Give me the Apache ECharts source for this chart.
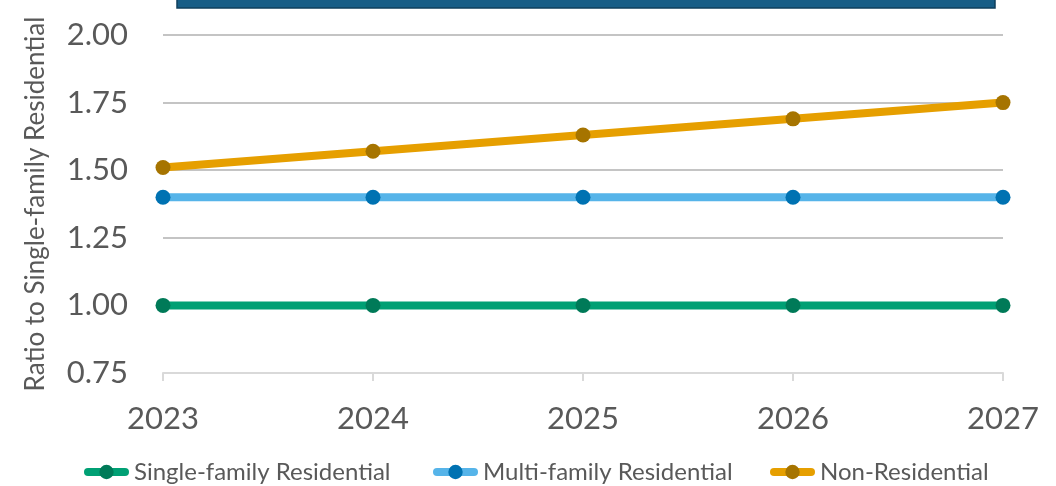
<!DOCTYPE html>
<html>
<head>
<meta charset="utf-8">
<title>Ratio to Single-family Residential</title>
<script src="https://cdn.jsdelivr.net/npm/echarts@6/dist/echarts.min.js"></script>
<style>
  html, body { margin: 0; padding: 0; background: #ffffff; }
  #chart { width: 1056px; height: 486px; }
</style>
</head>
<body>
<div id="chart"></div>
<script>
// Forecast years on the x axis
const years = ['2023', '2024', '2025', '2026', '2027'];

// Rate ratios relative to single-family residential
const singleFamily = [1.00, 1.00, 1.00, 1.00, 1.00];
const multiFamily = [1.40, 1.40, 1.40, 1.40, 1.40];
const nonResidential = [1.51, 1.57, 1.63, 1.69, 1.75];

const seriesNames = ['Single-family Residential', 'Multi-family Residential', 'Non-Residential'];
// Left edge of each legend entry along the bottom row
const legendLefts = [84, 433, 770];

const FONT = 'Lato, "Open Sans", sans-serif';
const TEXT = '#595959';

function lineSeries(name, data, lineColor, dotColor) {
  return {
    name: name,
    type: 'line',
    data: data,
    symbol: 'circle',
    symbolSize: 15,
    lineStyle: { color: lineColor, width: 8 },
    itemStyle: { color: dotColor },
    emphasis: { disabled: true },
    animation: false
  };
}

function legendEntry(name, left) {
  return {
    top: 460,
    left: left,
    padding: 0,
    itemWidth: 37,
    itemHeight: 18,
    lineStyle: { width: 8, cap: 'round' },
    textStyle: { color: TEXT, fontSize: 24, fontFamily: FONT, padding: [0, 0, 0, 4] },
    data: [name]
  };
}

const chart = echarts.init(document.getElementById('chart'), null, { renderer: 'canvas' });

chart.setOption({
  backgroundColor: '#ffffff',
  textStyle: { fontFamily: FONT },
  grid: { left: 163, right: 53, top: 35, bottom: 113, containLabel: false },
  graphic: [{
    type: 'rect',
    shape: { x: 177, y: -12, width: 818, height: 20 },
    style: { fill: '#175d86', stroke: '#0f3f5c', lineWidth: 1.5 },
    silent: true
  }],
  legend: seriesNames.map((n, i) => legendEntry(n, legendLefts[i])),
  xAxis: {
    type: 'category',
    data: years,
    boundaryGap: false,
    axisLine: { lineStyle: { color: '#d9d9d9', width: 2 } },
    axisTick: { show: true, length: 8, lineStyle: { color: '#d9d9d9', width: 2 } },
    axisLabel: { color: TEXT, fontSize: 31, fontFamily: FONT, margin: 30 },
    splitLine: { show: false }
  },
  yAxis: {
    type: 'value',
    min: 0.75,
    max: 2.0,
    interval: 0.25,
    name: 'Ratio to Single-family Residential',
    nameLocation: 'middle',
    nameGap: 114,
    nameTextStyle: { color: TEXT, fontSize: 26, fontFamily: FONT },
    axisLine: { show: false },
    axisTick: { show: false },
    axisLabel: {
      color: TEXT, fontSize: 31, fontFamily: FONT, margin: 35,
      formatter: v => v.toFixed(2)
    },
    splitLine: { lineStyle: { color: '#c4c4c4', width: 2 } }
  },
  series: [
    lineSeries(seriesNames[0], singleFamily, '#00a074', '#007a58'),
    lineSeries(seriesNames[1], multiFamily, '#56b4e9', '#0072b2'),
    lineSeries(seriesNames[2], nonResidential, '#e69f00', '#a67400')
  ]
});
</script>
</body>
</html>
